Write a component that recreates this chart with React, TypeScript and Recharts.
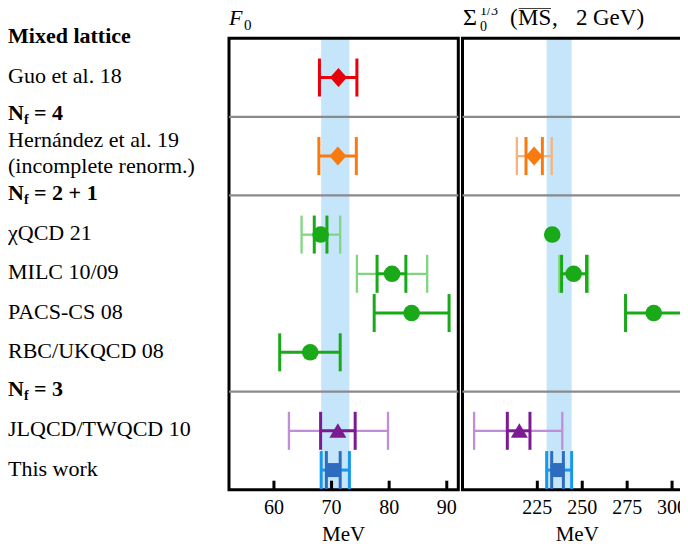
import { ScatterChart, Scatter, XAxis, YAxis, ErrorBar, ReferenceArea, ReferenceLine } from 'recharts';

const FONT = '"Liberation Serif", "Times New Roman", serif';

// one entry per study, top to bottom
const studyLabels = [
  'Guo et al. 18',
  'Hernández et al. 19\n(incomplete renorm.)',
  'χQCD 21',
  'MILC 10/09',
  'PACS-CS 08',
  'RBC/UKQCD 08',
  'JLQCD/TWQCD 10',
  'This work',
];
const studyRows = [1, 3, 5, 6, 7, 8, 10, 11];
const markers = ['diamond', 'diamond', 'circle', 'circle', 'circle', 'circle', 'triangle', 'square'];
const colors = ['#e8000b', '#f97b0f', '#19a919', '#19a919', '#19a919', '#19a919', '#7c1a94', '#2e6cc0'];
const lightColors = [null, '#f8b27a', '#80d580', '#80d580', null, null, '#c08ed6', '#1898ea'];

// group headings
const groupLabels = ['Mixed lattice', 'N_f = 4', 'N_f = 2 + 1', 'N_f = 3'];
const groupRows = [0, 2, 4, 9];
const separatorRows = [2, 4, 9];

// F0 in MeV
const f0Values = [71.2, 71.1, 68.1, 80.5, 83.9, 66.3, 71.1, 70.3];
const f0Stat = [[3.3, 3.2], [3.3, 3.2], [1.1, 1.1], [2.6, 2.4], [6.5, 6.5], [5.3, 5.2], [3.0, 3.0], [1.2, 1.2]];
const f0Total = [null, null, [3.3, 3.4], [6.1, 6.1], null, null, [8.5, 8.7], [2.1, 2.8]];
const f0Band = [68.2, 73.1];
const f0Ticks = [60, 70, 80, 90];

// Sigma0^(1/3) in MeV
const sigmaValues = [null, 223.2, 233.3, 245.2, 289.8, null, 215.0, 236.3];
const sigmaStat = [null, [4.5, 4.6], null, [6.7, 7.2], [15.7, 16.5], null, [6.7, 5.9], [3.3, 3.2]];
const sigmaTotal = [null, [9.6, 9.8], null, [8.0, 8.1], null, null, [25.2, 23.9], [6.1, 7.8]];
const sigmaBand = [230.2, 244.1];
const sigmaTicks = [225, 250, 275, 300];

const ROW_MAX = 11.5;

const markerShape = (kind: string, color: string) => (props: any) => {
  const { cx, cy } = props;
  if (kind === 'diamond')
    return <path d={`M${cx},${cy - 9.5}L${cx + 8.5},${cy}L${cx},${cy + 9.5}L${cx - 8.5},${cy}Z`} fill={color} />;
  if (kind === 'triangle')
    return <path d={`M${cx},${cy - 7.5}L${cx + 8.5},${cy + 7}L${cx - 8.5},${cy + 7}Z`} fill={color} />;
  if (kind === 'square') return <rect x={cx - 7} y={cy - 7} width={14} height={14} fill={color} />;
  return <circle cx={cx} cy={cy} r={8.3} fill={color} />;
};

const AxisTick = (props: any) => {
  const { x, y, payload } = props;
  return (
    <g>
      <line x1={x} x2={x} y1={y} y2={y - 9} stroke="#000" strokeWidth={3} />
      <text x={x} y={y + 24.5} textAnchor="middle" fontSize={20} fontFamily={FONT} fill="#000">
        {payload.value}
      </text>
    </g>
  );
};

const renderGroup = (text: string, y: number) => {
  if (text.startsWith('N_f')) {
    return (
      <text x={8} y={y} fontSize={22} fontWeight="bold" fontFamily={FONT} fill="#000">
        N<tspan fontSize={14} dy={4}>f</tspan>
        <tspan dy={-4}>{text.slice(3)}</tspan>
      </text>
    );
  }
  return (
    <text x={8} y={y} fontSize={22} fontWeight="bold" fontFamily={FONT} fill="#000">
      {text}
    </text>
  );
};

const RowLabel = (props: any) => {
  const { y, payload } = props;
  const row = payload.value;
  const g = groupRows.indexOf(row);
  if (g >= 0) return renderGroup(groupLabels[g], y + (row === 2 ? 3.5 : 4.5));
  const s = studyRows.indexOf(row);
  if (s < 0) return null;
  const lines = studyLabels[s].split('\n');
  if (lines.length > 1) {
    return (
      <g>
        <text x={8} y={y - 9.5} fontSize={22} fontFamily={FONT} fill="#000">{lines[0]}</text>
        <text x={8} y={y + 16.5} fontSize={22} fontFamily={FONT} fill="#000">{lines[1]}</text>
      </g>
    );
  }
  return (
    <text x={8} y={y + 5.5} fontSize={22} fontFamily={FONT} fill="#000">
      {lines[0]}
    </text>
  );
};

type PanelProps = {
  width: number;
  margin: { top: number; right: number; bottom: number; left: number };
  domain: number[];
  ticks: number[];
  band: number[];
  values: (number | null)[];
  stat: (number[] | null)[];
  total: (number[] | null)[];
  showLabels: boolean;
};

const Panel = ({ width, margin, domain, ticks, band, values, stat, total, showLabels }: PanelProps) => (
  <ScatterChart width={width} height={550} margin={margin}>
    <XAxis
      type="number"
      dataKey="x"
      domain={domain}
      ticks={ticks}
      allowDataOverflow
      axisLine={false}
      tickLine={false}
      tickSize={0}
      tickMargin={0}
      height={30}
      tick={<AxisTick />}
      label={{ value: 'MeV', position: 'bottom', offset: 6, fontSize: 21, fontFamily: FONT, fill: '#000' }}
    />
    <YAxis
      type="number"
      dataKey="y"
      domain={[0, ROW_MAX]}
      reversed
      ticks={[0, 1, 2, 3, 4, 5, 6, 7, 8, 9, 10, 11]}
      interval={0}
      hide={!showLabels}
      width={221}
      axisLine={false}
      tickLine={false}
      tick={<RowLabel />}
    />
    <ReferenceArea x1={band[0]} x2={band[1]} y1={0} y2={ROW_MAX} fill="#c5e5fa" fillOpacity={1} stroke="none" ifOverflow="hidden" />
    {separatorRows.map((r) => (
      <ReferenceLine key={r} y={r} stroke="#8a8a8a" strokeWidth={2.2} />
    ))}
    <ReferenceArea
      x1={domain[0]}
      x2={domain[1]}
      y1={0}
      y2={ROW_MAX}
      fill="none"
      stroke="#000"
      strokeWidth={3}
      ifOverflow="visible"
    />
    {values.map((v, i) =>
      v === null ? null : (
        <Scatter
          key={studyLabels[i]}
          data={[{ x: v, y: studyRows[i], stat: stat[i], total: total[i] }]}
          isAnimationActive={false}
          shape={markerShape(markers[i], colors[i])}
        >
          {total[i] && lightColors[i] ? (
            <ErrorBar dataKey="total" direction="x" width={19} stroke={lightColors[i] as string} strokeWidth={i === 7 ? 3 : 2.3} />
          ) : null}
          {stat[i] ? <ErrorBar dataKey="stat" direction="x" width={19} stroke={colors[i]} strokeWidth={3} /> : null}
        </Scatter>
      )
    )}
  </ScatterChart>
);

export default function App() {
  return (
    <div style={{ position: 'relative', width: 688, height: 550, margin: -8, overflow: 'hidden', background: '#fff', fontFamily: FONT }}>
      <div style={{ position: 'absolute', left: 0, top: 0 }}>
        <Panel
          width={461}
          margin={{ top: 38.3, right: 2.7, bottom: 30.3, left: 8 }}
          domain={[52.2, 92.0]}
          ticks={f0Ticks}
          band={f0Band}
          values={f0Values}
          stat={f0Stat}
          total={f0Total}
          showLabels
        />
      </div>
      <div style={{ position: 'absolute', left: 440, top: 0 }}>
        <Panel
          width={260}
          margin={{ top: 38.3, right: 8, bottom: 30.3, left: 22.5 }}
          domain={[183.35, 311.1]}
          ticks={sigmaTicks}
          band={sigmaBand}
          values={sigmaValues}
          stat={sigmaStat}
          total={sigmaTotal}
          showLabels={false}
        />
      </div>
      {/* panel titles */}
      <svg width={688} height={36} style={{ position: 'absolute', left: 0, top: 0 }} fontFamily={FONT} fill="#000">
        <text x={229} y={25} fontSize={22} fontStyle="italic">F</text>
        <text x={244} y={30} fontSize={15}>0</text>
        <text x={463} y={25} fontSize={24}>Σ</text>
        <text x={480} y={15} fontSize={14}>1/3</text>
        <text x={480} y={31} fontSize={14}>0</text>
        <text x={510} y={25} fontSize={23}>(</text>
        <text x={518} y={25} fontSize={23}>MS</text>
        <line x1={518.5} x2={551} y1={8} y2={8} stroke="#000" strokeWidth={1.5} />
        <text x={552} y={25} fontSize={23}>,</text>
        <text x={576} y={25} fontSize={23}>2</text>
        <text x={593} y={25} fontSize={23}>GeV)</text>
      </svg>
    </div>
  );
}
